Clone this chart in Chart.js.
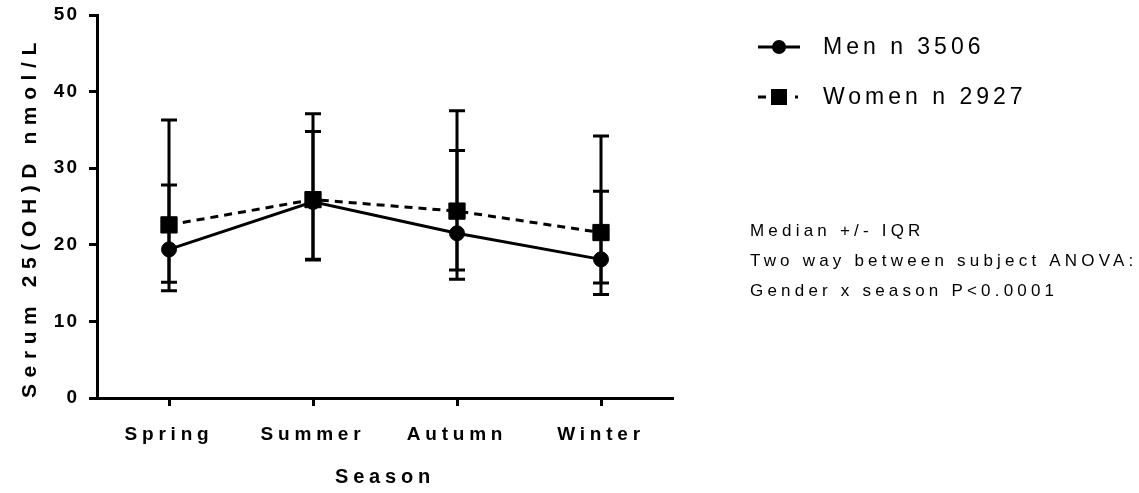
<!DOCTYPE html>
<html>
<head>
<meta charset="utf-8">
<script src="https://cdn.jsdelivr.net/npm/chart.js"></script>
<style>
  html, body { margin: 0; padding: 0; background: #fff; }
  #wrap { width: 1139px; height: 493px; position: relative; }
</style>
</head>
<body>
<div id="wrap"><canvas id="chart"></canvas></div>
<script>
// Season categories and y ticks
const seasons = ['Spring', 'Summer', 'Autumn', 'Winter'];
const yTicks = [0, 10, 20, 30, 40, 50];

// Serum 25(OH)D nmol/L, median with interquartile range
const menMedian = [19.4, 25.6, 21.5, 18.1];
const menQ1 = [14.0, 18.0, 15.5, 13.5];
const menQ3 = [27.8, 34.8, 32.3, 27.0];

const womenMedian = [22.6, 25.9, 24.4, 21.6];
const womenQ1 = [15.1, 18.1, 16.7, 15.0];
const womenQ3 = [36.3, 37.1, 37.5, 34.2];

const legendLabels = ['Men n 3506', 'Women n 2927'];
const notes = ['Median +/- IQR', 'Two way between subject ANOVA:', 'Gender x season P<0.0001'];

const FONT = "'Liberation Sans', Arial, sans-serif";

// wrap scale text drawing so each piece of text gets its own letter spacing
function spaced(fn, spacing) {
  return function (...args) {
    this.ctx.save();
    this.ctx.letterSpacing = spacing;
    fn.apply(this, args);
    this.ctx.restore();
  };
}

const spacingPlugin = {
  id: 'spacing',
  afterLayout(chart) {
    const x = chart.scales.x, y = chart.scales.y;
    const proto = Object.getPrototypeOf(x);
    x.drawLabels = spaced(proto.drawLabels, '4.8px');
    x.drawTitle = spaced(proto.drawTitle, '4.8px');
    y.drawLabels = spaced(proto.drawLabels, '2px');
    y.drawTitle = spaced(proto.drawTitle, '6.6px');
  }
};

// error bars: vertical line from Q1 to Q3 with caps at the ends
const errorBars = {
  id: 'errorBars',
  beforeDatasetsDraw(chart) {
    const ctx = chart.ctx, xs = chart.scales.x, ys = chart.scales.y;
    const sets = [[menQ1, menQ3], [womenQ1, womenQ3]];
    ctx.save();
    ctx.strokeStyle = '#000';
    ctx.lineWidth = 3;
    sets.forEach(([lo, hi]) => {
      seasons.forEach((s, i) => {
        const px = xs.getPixelForValue(i);
        const y1 = ys.getPixelForValue(lo[i]);
        const y2 = ys.getPixelForValue(hi[i]);
        ctx.beginPath();
        ctx.moveTo(px, y1); ctx.lineTo(px, y2);
        ctx.moveTo(px - 8, y1); ctx.lineTo(px + 8, y1);
        ctx.moveTo(px - 8, y2); ctx.lineTo(px + 8, y2);
        ctx.stroke();
      });
    });
    ctx.restore();
  }
};

// legend and notes on the right
const sideText = {
  id: 'sideText',
  afterDraw(chart) {
    const ctx = chart.ctx;
    ctx.save();
    ctx.fillStyle = '#000';
    ctx.strokeStyle = '#000';
    ctx.lineWidth = 3;

    // Men: solid line with circle
    let y = 47;
    ctx.beginPath(); ctx.moveTo(758, y); ctx.lineTo(800, y); ctx.stroke();
    ctx.beginPath(); ctx.arc(779, y, 7, 0, Math.PI * 2); ctx.fill();

    // Women: dashed line with square
    y = 97;
    ctx.beginPath(); ctx.moveTo(758, y); ctx.lineTo(766, y); ctx.stroke();
    ctx.fillRect(771, y - 8, 16, 16);
    ctx.fillRect(795, y - 1.5, 3, 3);

    ctx.textBaseline = 'middle';
    ctx.textAlign = 'left';
    ctx.font = '23px ' + FONT;
    ctx.letterSpacing = '4px';
    ctx.fillText(legendLabels[0], 823, 48);
    ctx.fillText(legendLabels[1], 823, 98);

    ctx.font = '17px ' + FONT;
    ctx.letterSpacing = '4.2px';
    notes.forEach((t, i) => ctx.fillText(t, 750, 231 + i * 30));
    ctx.restore();
  }
};

new Chart(document.getElementById('chart'), {
  type: 'line',
  data: {
    labels: seasons,
    datasets: [
      {
        label: legendLabels[0],
        data: menMedian,
        borderColor: '#000',
        backgroundColor: '#000',
        borderWidth: 3,
        pointStyle: 'circle',
        pointRadius: 7.5,
        pointBorderWidth: 1,
        tension: 0
      },
      {
        label: legendLabels[1],
        data: womenMedian,
        borderColor: '#000',
        backgroundColor: '#000',
        borderWidth: 3,
        borderDash: [8, 6],
        pointStyle: 'rect',
        pointRadius: 11.5,
        pointBorderWidth: 1,
        tension: 0
      }
    ]
  },
  options: {
    responsive: true,
    maintainAspectRatio: false,
    animation: false,
    devicePixelRatio: 1,
    layout: { padding: { top: 15, right: 466, bottom: 0, left: 0 } },
    plugins: {
      legend: { display: false },
      tooltip: { enabled: false }
    },
    scales: {
      x: {
        type: 'category',
        offset: true,
        afterFit: s => { s.height = 95; },
        grid: {
          offset: false,
          drawOnChartArea: false,
          drawTicks: true,
          tickLength: 8,
          tickWidth: 3,
          tickColor: '#000'
        },
        border: { display: true, color: '#000', width: 3 },
        ticks: {
          color: '#000',
          padding: 17,
          font: { family: FONT, size: 19, weight: 'bold' }
        },
        title: {
          display: true,
          text: 'Season',
          color: '#000',
          padding: { top: 0, bottom: 4 },
          font: { family: FONT, size: 20, weight: 'bold' }
        }
      },
      y: {
        min: 0,
        max: 50,
        afterFit: s => { s.width = 97; s.paddingTop = 0; s.paddingBottom = 0; },
        afterBuildTicks: s => { s.ticks = yTicks.map(v => ({ value: v })); },
        grid: {
          drawOnChartArea: false,
          drawTicks: true,
          tickLength: 8,
          tickWidth: 3,
          tickColor: '#000'
        },
        border: { display: true, color: '#000', width: 3 },
        ticks: {
          color: '#000',
          padding: 10,
          font: { family: FONT, size: 19, weight: 'bold' }
        },
        title: {
          display: true,
          text: 'Serum 25(OH)D nmol/L',
          align: 'start',
          color: '#000',
          padding: { top: 18, bottom: 0 },
          font: { family: FONT, size: 21, weight: 'bold' }
        }
      }
    }
  },
  plugins: [spacingPlugin, errorBars, sideText]
});
</script>
</body>
</html>
